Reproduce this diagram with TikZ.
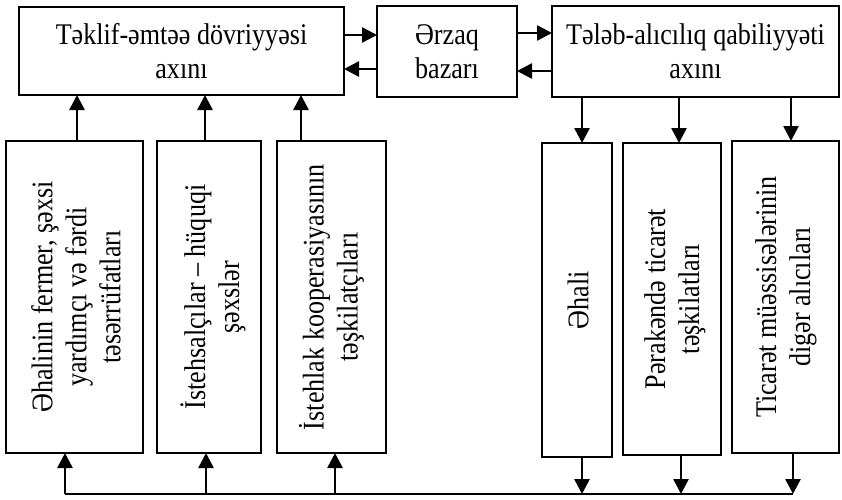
\documentclass[tikz,border=0pt]{standalone}
\usepackage{fontspec}
\setmainfont{Liberation Serif}[FakeStretch=0.87]
\usetikzlibrary{arrows.meta}
\begin{document}
\begin{tikzpicture}[x=1pt,y=-1pt,
  box/.style={draw, line width=1.6pt, inner sep=0pt, outer sep=0pt, align=center, font=\fontsize{30}{34}\selectfont},
  vtext/.style={rotate=90, align=center, inner sep=0pt, font=\fontsize{30}{34}\selectfont},
  arr/.style={line width=2.6pt, -{Triangle[length=15pt,width=15pt]}},
  ln/.style={line width=2.4pt}]
\useasboundingbox (0,0) rectangle (842,499);
% top boxes
\node[box, minimum width=325pt, minimum height=88pt] (t1) at (181.5,51) {Təklif-əmtəə dövriyyəsi\\axını};
\node[box, minimum width=140pt, minimum height=91pt] (t2) at (447,51.5) {Ərzaq\\bazarı};
\node[box, minimum width=287pt, minimum height=91pt] (t3) at (695.5,51.5) {Tələb-alıcılıq qabiliyyəti\\axını};
% bottom boxes
\node[box, minimum width=137pt, minimum height=312pt] (b1) at (74.5,297) {};
\node[box, minimum width=104pt, minimum height=312pt] (b2) at (209,297) {};
\node[box, minimum width=109pt, minimum height=312pt] (b3) at (331.5,297) {};
\node[box, minimum width=70pt, minimum height=314pt] (b4) at (577,300) {};
\node[box, minimum width=98pt, minimum height=312pt] (b5) at (672,299) {};
\node[box, minimum width=107pt, minimum height=312pt] (b6) at (785.5,297) {};
% rotated texts
\node[vtext] (l1) at (76,297) {Əhalinin fermer, şəxsi\\yardımçı və fərdi\\təsərrüfatları};
\node[vtext] (l2) at (213,297) {İstehsalçılar – hüquqi\\şəxslər};
\node[vtext] (l3) at (331.5,297) {İstehlak kooperasiyasının\\təşkilatçıları};
\node[vtext] (l4) at (578,300) {Əhali};
\node[vtext] (l5) at (675,299) {Pərakəndə ticarət\\təşkilatları};
\node[vtext] (l6) at (786,297) {Ticarət müəssisələrinin\\digər alıcıları};
% horizontal arrows between top boxes
\draw[arr] (t1.east |- 0,35) -- (t2.west |- 0,35);
\draw[arr] (t2.west |- 0,69) -- (t1.east |- 0,69);
\draw[arr] (t2.east |- 0,33) -- (t3.west |- 0,33);
\draw[arr] (t3.west |- 0,71) -- (t2.east |- 0,71);
% up arrows into top-left box
\draw[arr] (b1.north -| 77,0) -- (t1.south -| 77,0);
\draw[arr] (b2.north -| 205,0) -- (t1.south -| 205,0);
\draw[arr] (b3.north -| 301,0) -- (t1.south -| 301,0);
% down arrows from top-right box
\draw[arr] (t3.south -| 582,0) -- (b4.north -| 582,0);
\draw[arr] (t3.south -| 679,0) -- (b5.north -| 679,0);
\draw[arr] (t3.south -| 791,0) -- (b6.north -| 791,0);
% bottom line
\coordinate (p1) at (65,494);
\coordinate (p2) at (206,494);
\coordinate (p3) at (335,494);
\coordinate (q1) at (582,494);
\coordinate (q2) at (681,494);
\coordinate (q3) at (793,494);
\draw[ln] (p1) -- (q3);
\draw[arr] (p1) -- (p1 |- b1.south);
\draw[arr] (p2) -- (p2 |- b2.south);
\draw[arr] (p3) -- (p3 |- b3.south);
\draw[arr] (q1 |- b4.south) -- (q1);
\draw[arr] (q2 |- b5.south) -- (q2);
\draw[arr] (q3 |- b6.south) -- (q3);
\end{tikzpicture}
\end{document}
